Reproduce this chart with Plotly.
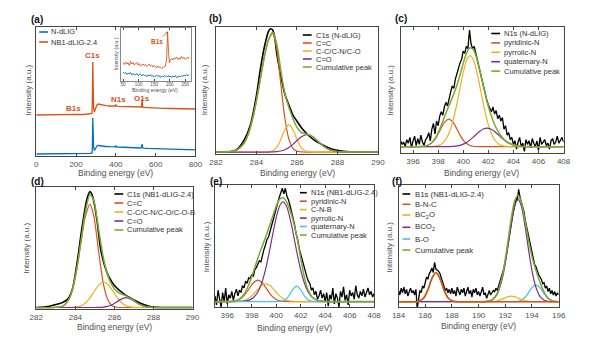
import plotly.graph_objects as go

W, H = 594, 346
FONT = "Liberation Sans, Arial, sans-serif"
AXC = "#454545"
TXT = "#505050"
BLACK, RED, YEL, PUR, CYA, GRN = "#000000", "#D95319", "#EDB120", "#7E2F8E", "#4DBEEE", "#77AC30"
BLUE = "#0072BD"

# ---------------- (a) survey ----------------
a_blue_x = [0,40,80,120,160,200,240,270,280,282,284,286,288,292,298,305,312,320,335,350,370,390,396,399,402,410,430,450,470,490,510,525,529,532,535,540,560,600,640,680,720,760,800]
a_blue_y = [2,2,2.1,2.1,2.2,2.2,2.4,2.6,3,9,38,20,9,5.5,7.5,10,10.5,10.2,9.8,9.5,9.3,9.1,9.2,10.5,9.2,9,8.7,8.6,8.4,8.3,8.1,8,8.2,12,8.2,7.9,7.6,7.3,7,6.8,6.6,6.3,6.1]
a_or_x = [0,40,80,120,160,190,200,210,240,270,280,282,284,286,288,292,298,305,312,320,335,350,370,390,396,399,402,410,430,450,470,490,510,525,529,532,535,540,560,600,640,680,720,760,800]
a_or_y = [41,41.2,41.1,41.3,41.4,41.8,42.3,41.6,41.5,41.7,42.5,60,94,70,48,44,47.5,51,52,51.5,50.8,50.3,50,49.8,50,51.5,50,49.7,49.5,49.3,49.1,49,48.8,48.7,49,57,49,48.6,48.3,48,47.7,47.5,47.3,47.1,47]
ins_x = [50,54,58,62,66,70,74,78,82,86,90,94,98,102,106,110,114,118,122,126,130,134,138,142,146,150,154,158,162,166,170,174,178,182,186,190,193,196,199,202,206,210,214,218,222,226,230,234,238,242,246,250,254,258,262]
ins_or = [18.5,16.5,19,17,18,15.5,19.5,17,18.5,16,17.5,18.5,16,17.5,15,16.5,17,15.5,16.5,14.5,16,17,15,16,14,15.5,14.5,13,15,13.5,14,12.5,13.5,14,15,22,49,30,18,21,22.5,21,23,22,24,21.5,23,22,24.5,22.5,23.5,21.5,23,24,22]
ins_bl = [9,7.5,8.5,6.5,8,7,8.5,6,7.5,7,6,7.5,5.5,6.5,7,5,6.5,5.5,6,4.5,6,5,6.5,4.5,5.5,4,5,6,4.5,5.5,3.5,5,4,5.5,4.5,5,4,5.5,4,5,3.5,5,4,5.5,3.5,4.5,5,4,5.5,4.5,6,5,6.5,5.5,6]

# ---------------- (b) C1s N-dLIG ----------------
b_black_x = [282.0,282.5,282.8,283.1,283.4,283.7,284.0,284.2,284.4,284.6,284.7,284.8,284.9,285.0,285.2,285.4,285.6,285.8,286.0,286.3,286.6,286.9,287.3,287.7,288.2,288.7,290.0]
b_black_y = [0.0,0.0,0.005,0.03,0.10,0.22,0.46,0.68,0.86,0.98,1.0,0.99,0.93,0.80,0.62,0.47,0.38,0.30,0.25,0.18,0.13,0.09,0.055,0.025,0.008,0.0,0.0]
b_x = [282.0,283.0,283.4,283.6,283.8,284.0,284.2,284.4,284.6,284.8,285.0,285.2,285.4,285.6,285.8,286.0,286.2,286.4,286.6,286.8,287.0,287.3,287.6,288.0,288.5,290.0]
b_cc = [0,.014,.075,.148,.262,.418,.601,.780,.911,.96,.836,.552,.276,.105,.030,.0065,.001,0,0,0,0,0,0,0,0,0]
b_ccn = [0,0,0,0,0,0,0,0,.0017,.0097,.038,.101,.181,.22,.181,.101,.038,.0097,.0017,0,0,0,0,0,0,0]
b_co = [0,0,0,0,0,0,0,0,0,.0012,.0034,.0086,.019,.037,.062,.093,.121,.138,.138,.121,.093,.049,.019,.0034,0,0]
b_cum = [0,.014,.075,.148,.262,.418,.601,.780,.913,.971,.877,.662,.476,.362,.273,.20,.16,.148,.140,.121,.093,.049,.019,.0034,0,0]

# ---------------- (c) N1s N-dLIG ----------------
c_black_start, c_black_step = 395.0, 0.125
c_black = [0.05,0.02,0.04,0.00,0.06,0.03,0.08,-0.01,0.05,0.09,0.01,0.07,0.02,0.10,0.04,0.01,0.06,
           0.08,0.12,0.05,0.15,0.20,0.11,0.22,
           0.18,0.26,0.30,0.27,0.34,0.38,0.35,0.42,
           0.47,0.52,0.50,0.58,0.63,0.66,0.72,0.75,
           0.82,0.80,0.86,0.84,1.00,0.88,0.84,0.86,
           0.80,0.76,0.70,0.62,0.58,0.50,0.46,0.40,
           0.36,0.33,0.30,0.34,0.28,0.31,0.24,0.27,
           0.22,0.25,0.15,0.18,0.10,0.12,0.06,0.08,
           0.02,0.05,-0.02,0.04,0.08,0.00,0.03,-0.04,0.06,0.02,0.05,-0.01,0.07,0.03,0.00,0.05,-0.03,0.08,0.02,0.04,0.06,0.01,0.03,-0.02,0.05,0.07,0.02,0.04,0.09,0.03,0.05,0.08,0.04]
c_x = [395,396,396.5,397,397.4,397.8,398.2,398.5,398.85,399.2,399.5,399.8,400.1,400.3,400.55,400.8,401.0,401.3,401.6,401.9,402.2,402.5,402.8,403.1,403.5,404,404.5,405,406,408]
c_pyridinic = [0,0,.0006,.0059,.0244,.072,.150,.208,.237,.208,.150,.089,.044,.0244,.0104,.0039,.0016,.0004,0,0,0,0,0,0,0,0,0,0,0,0]
c_pyrrolic = [0,0,0,.0002,.001,.0047,.0187,.0456,.1105,.2275,.370,.533,.680,.748,.78,.748,.680,.533,.370,.2275,.1238,.0597,.0254,.0096,.0022,.0002,0,0,0,0]
c_quaternary = [0,0,0,0,0,0,.0001,.0003,.0009,.0028,.0066,.0139,.0266,.0388,.0583,.0818,.1022,.131,.152,.16,.152,.131,.1022,.072,.0388,.0139,.0038,.0008,0,0]
c_cum = [0,0,.0006,.0061,.0254,.0767,.1688,.2539,.3484,.4383,.5266,.6359,.7506,.8112,.8487,.8337,.7838,.6644,.522,.3875,.2758,.1907,.1276,.0816,.041,.0141,.0038,.0008,0,0]

# ---------------- (d) C1s NB1-dLIG-2.4 ----------------
d_black_x = [282.0,282.5,283.0,283.3,283.6,283.85,284.1,284.35,284.6,284.75,284.9,285.1,285.3,285.5,285.7,286.0,286.5,287.0,287.5,287.9,288.5,290.0]
d_black_y = [0.0,0.005,0.025,0.04,0.07,0.16,0.40,0.70,0.94,1.0,0.95,0.76,0.50,0.36,0.27,0.19,0.115,0.065,0.025,0.005,0.0,0.0]
d_x = [282,283,283.4,283.7,283.9,284.1,284.3,284.5,284.75,284.95,285.1,285.25,285.45,285.65,285.85,286.05,286.3,286.6,286.9,287.2,287.5,287.9,288.3,290]
d_cc = [0,.0012,.017,.081,.186,.356,.573,.777,.89,.785,.607,.408,.193,.071,.020,.0045,0,0,0,0,0,0,0,0]
d_ccnob = [0,0,0,.0005,.0018,.0057,.0156,.0362,.0826,.1334,.172,.203,.22,.203,.160,.107,.052,.0156,.0033,.0005,0,0,0,0]
d_co = [0,0,0,0,0,0,0,0,0,0,.0003,.0009,.0032,.0092,.0212,.0403,.068,.085,.068,.035,.0115,.0013,0,0]
d_cum = [0,.0012,.017,.0815,.1878,.3617,.5886,.8132,.9726,.9184,.7793,.6119,.4162,.2832,.2012,.1518,.12,.1006,.0713,.0355,.0115,.0013,0,0]

# ---------------- (e) N1s NB1-dLIG-2.4 ----------------
e_black_start, e_black_step = 395.0, 0.125
e_black = [0.05,-0.03,0.10,0.02,-0.05,0.08,0.00,0.12,-0.02,0.06,0.03,0.09,0.01,0.07,0.11,0.05,0.10,
           0.08,0.14,0.12,0.18,0.16,0.21,0.20,
           0.24,0.22,0.28,0.30,0.33,0.36,0.35,0.42,
           0.46,0.50,0.55,0.57,0.63,0.68,0.72,0.77,
           0.83,0.87,0.92,0.97,1.00,0.95,1.00,0.93,
           0.90,0.85,0.80,0.74,0.68,0.60,0.55,0.47,
           0.42,0.36,0.30,0.27,0.22,0.18,0.16,0.10,
           0.12,0.06,0.09,0.02,0.05,0.10,0.03,0.07,
           0.00,0.08,-0.04,0.06,0.02,0.12,-0.02,0.07,0.03,-0.05,0.09,0.04,0.13,0.01,0.06,-0.03,0.10,0.05,0.08,0.02,0.14,0.06,0.03,0.09,0.05,0.11,0.04,0.08,0.12,0.06,0.09,0.04,0.07]
e_x = [395,396,396.5,397,397.4,397.8,398.1,398.5,398.8,399.15,399.5,399.8,400.1,400.35,400.56,400.8,401.05,401.3,401.67,402.0,402.3,402.6,402.9,403.2,403.6,404,404.5,405,406,408]
e_pyridinic = [0,.0003,.0032,.0191,.0553,.1152,.1614,.19,.1733,.1235,.0685,.0339,.0139,.0058,.0025,.0009,.0002,0,0,0,0,0,0,0,0,0,0,0,0,0]
e_cnb = [0,0,.0003,.0026,.0103,.0311,.0589,.1078,.1408,.157,.1408,.1078,.0704,.0437,.0268,.014,.0063,.0026,.0006,.0001,0,0,0,0,0,0,0,0,0,0]
e_pyrrolic = [0,0,.0001,.0008,.0035,.0129,.0308,.0839,.1582,.2925,.4722,.639,.7827,.8588,.88,.8523,.7704,.6497,.4447,.279,.1645,.0877,.0423,.0185,.0053,.0012,.0002,0,0,0]
e_quaternary = [0,0,0,0,0,0,0,0,0,0,0,0,.0003,.0018,.0065,.021,.0526,.097,.136,.1039,.051,.016,.0032,.0004,0,0,0,0,0,0]
e_cum = [0,.0003,.0036,.0225,.0691,.1592,.2511,.3817,.4723,.573,.6815,.7807,.8673,.9101,.9158,.8882,.8295,.7493,.5813,.3829,.2155,.1037,.0455,.0189,.0053,.0012,.0002,0,0,0]

# ---------------- (f) B1s NB1-dLIG-2.4 ----------------
f_black_start, f_black_step = 184.0, 0.1
f_black = [0.10,0.06,0.12,0.08,0.13,0.07,0.11,0.05,0.09,0.12,
           0.08,0.10,0.06,0.11,-0.06,0.04,0.10,0.08,0.14,0.12,
           0.16,0.22,0.20,0.25,0.27,0.30,0.26,0.35,0.29,0.28,
           0.27,0.25,0.21,0.17,0.15,0.10,0.12,0.08,0.11,0.07,
           0.12,0.07,0.10,0.05,0.13,0.09,0.06,0.11,0.08,0.12,
           0.05,0.09,0.13,0.07,0.10,0.04,0.11,0.08,0.12,0.06,
           0.09,0.05,0.10,0.13,0.06,0.08,0.03,0.07,0.10,0.06,
           0.08,0.10,0.09,0.12,0.10,0.14,0.18,0.20,0.26,0.30,
           0.36,0.44,0.50,0.58,0.66,0.74,0.80,0.85,0.92,0.90,
           1.00,0.93,0.88,0.84,0.80,0.72,0.66,0.60,0.54,0.48,
           0.42,0.38,0.33,0.31,0.27,0.24,0.22,0.20,0.16,0.17,
           0.12,0.14,0.09,0.12,0.07,0.10,0.06,0.09,0.05,0.08,
           0.06]
f_x = [184,185,185.5,185.9,186.2,186.5,186.8,187.1,187.4,187.7,188.1,188.6,189.5,190.5,191.0,191.4,191.8,192.1,192.45,192.7,192.95,193.2,193.5,193.8,194.05,194.3,194.6,194.9,195.2,195.6,196]
f_bnc = [0,.0001,.004,.0352,.1069,.208,.26,.208,.1069,.0352,.004,.0001,0,0,0,0,0,0,0,0,0,0,0,0,0,0,0,0,0,0,0]
f_bc2o = [0,0,0,0,0,0,0,0,0,0,0,0,0,.0001,.0015,.0081,.0249,.0408,.05,.0451,.0331,.0197,.0081,.0025,.0007,.0002,0,0,0,0,0]
f_bco2 = [0,0,0,0,0,0,0,0,0,0,0,0,0,.0014,.0149,.0677,.2178,.4166,.6945,.8505,.91,.8505,.6561,.4166,.246,.1268,.048,.0149,.0038,.0005,0]
f_bo = [0,0,0,0,0,0,0,0,0,0,0,0,0,0,0,0,0,0,.0002,.0009,.0039,.0133,.0417,.091,.1324,.15,.1253,.073,.0297,.0051,.0005]
f_cum = [0,.0001,.004,.0352,.1069,.208,.26,.208,.1069,.0352,.004,.0001,0,.0015,.0164,.0758,.2427,.4574,.7447,.8965,.947,.8835,.7059,.5101,.3791,.277,.1733,.0879,.0335,.0056,.0005]


def grid(start, step, n):
    return [round(start + step * i, 4) for i in range(n)]


fig = go.Figure()


def add(x, y, color, width, ax, spline=True):
    fig.add_trace(go.Scatter(
        x=x, y=y, mode="lines",
        line=dict(color=color, width=width, shape="spline" if spline else "linear", smoothing=0.8),
        xaxis="x" + ax, yaxis="y" + ax, showlegend=False, hoverinfo="skip"))


# (a)
add(a_blue_x, a_blue_y, BLUE, 1.3, "", spline=False)
add(a_or_x, a_or_y, RED, 1.3, "", spline=False)
add(ins_x, ins_bl, BLUE, 0.9, "7", spline=False)
add(ins_x, ins_or, RED, 0.9, "7", spline=False)
# (b)
add(b_black_x, b_black_y, BLACK, 1.6, "2")
add(b_x, b_cc, RED, 1.2, "2")
add(b_x, b_ccn, YEL, 1.2, "2")
add(b_x, b_co, PUR, 1.2, "2")
add(b_x, b_cum, GRN, 1.5, "2")
# (c)
add(grid(c_black_start, c_black_step, len(c_black)), c_black, BLACK, 1.3, "3", spline=False)
add(c_x, c_pyridinic, RED, 1.2, "3")
add(c_x, c_pyrrolic, YEL, 1.2, "3")
add(c_x, c_quaternary, PUR, 1.2, "3")
add(c_x, c_cum, GRN, 1.5, "3")
# (d)
add(d_black_x, d_black_y, BLACK, 1.6, "4")
add(d_x, d_cc, RED, 1.2, "4")
add(d_x, d_ccnob, YEL, 1.2, "4")
add(d_x, d_co, PUR, 1.2, "4")
add(d_x, d_cum, GRN, 1.5, "4")
# (e)
add(grid(e_black_start, e_black_step, len(e_black)), e_black, BLACK, 1.3, "5", spline=False)
add(e_x, e_pyridinic, RED, 1.2, "5")
add(e_x, e_cnb, YEL, 1.2, "5")
add(e_x, e_pyrrolic, PUR, 1.2, "5")
add(e_x, e_quaternary, CYA, 1.2, "5")
add(e_x, e_cum, GRN, 1.5, "5")
# (f)
add(grid(f_black_start, f_black_step, len(f_black)), f_black, BLACK, 1.3, "6", spline=False)
add(f_x, f_bo, CYA, 1.3, "6")
add(f_x, f_bc2o, YEL, 1.2, "6")
add(f_x, f_bco2, PUR, 1.2, "6")
add(f_x, f_cum, GRN, 1.5, "6")
add(f_x, f_bnc, RED, 1.5, "6")

panels = [
    ("", (30, 193), (27, 156), [0, 800], [0, 129], [0, 200, 400, 600, 800]),
    ("2", (214, 380), (27, 154), [282, 290], [-0.016, 1.014], [282, 284, 286, 288, 290]),
    ("3", (403, 570), (27, 153), [395, 408], [-0.054, 1.026], [396, 398, 400, 402, 404, 406, 408]),
    ("4", (30, 190), (187, 309), [282, 290], [-0.013, 1.04], [282, 284, 286, 288, 290]),
    ("5", (213, 376), (185, 307), [395, 408], [-0.048, 1.029], [396, 398, 400, 402, 404, 406, 408]),
    ("6", (401, 565), (185, 307), [184, 196], [-0.047, 1.038], [184, 186, 188, 190, 192, 194, 196]),
    ("7", (117, 188), (28, 81), [44, 267], [0, 53], [50, 100, 150, 200, 250]),
]
layout = {}
for n, (x0, x1), (y0, y1), xr, yr, tv in panels:
    small = n == "7"
    layout["xaxis" + n] = dict(
        domain=[x0 / W, x1 / W], range=xr, tickvals=tv, anchor="y" + n,
        ticks="inside", ticklen=2 if small else 3, tickcolor=AXC, tickwidth=0.8,
        showline=True, linecolor="#8a8a8a" if small else AXC, linewidth=0.8 if small else 1,
        mirror="ticks", showgrid=False, zeroline=False,
        ticklabelstandoff=-1 if small else 0,
        tickfont=dict(size=4.6 if small else 8, color=TXT, family=FONT))
    layout["yaxis" + n] = dict(
        domain=[1 - y1 / H, 1 - y0 / H], range=yr, anchor="x" + n,
        showticklabels=False, ticks="", showline=True, linecolor="#8a8a8a" if small else AXC,
        linewidth=0.8 if small else 1, mirror=True, showgrid=False, zeroline=False)

ann = []
shapes = []


def text(x, y, s, size=8, color=TXT, angle=0, xanchor="center", bold=False):
    ann.append(dict(x=x / W, y=1 - y / H, xref="paper", yref="paper", text=("<b>%s</b>" % s) if bold else s,
                    showarrow=False, xanchor=xanchor, yanchor="middle", textangle=angle,
                    font=dict(size=size, color=color, family=FONT)))


# panel letters
for s, x, y in [("(a)", 31, 20), ("(b)", 214, 19), ("(c)", 403, 19), ("(d)", 31, 181), ("(e)", 214, 181), ("(f)", 399, 181)]:
    text(x, y, s, size=10, color="#111111", bold=True)
# axis titles
for x, y in [(111, 173.5), (297, 173.5), (486, 173.5), (110, 326.5), (294, 327.5), (483, 325.5)]:
    text(x, y, "Binding energy (eV)", size=8.5)
for x, y in [(23, 90), (203, 90), (393, 90), (19, 248), (205, 247), (392, 247)]:
    text(x, y, "Intensity (a.u.)", size=8, angle=-90)
# inset titles
text(152, 90, "Binding energy (eV)", size=5.2)
text(112, 54, "Intensity (a.u.)", size=5.2, angle=-90)

# peak labels in (a)
for s, x, y in [("C1s", 285, 101), ("B1s", 187, 48), ("N1s", 412, 57), ("O1s", 530, 57.5)]:
    ann.append(dict(x=x, y=y, xref="x", yref="y", text="<b>%s</b>" % s, showarrow=False,
                    font=dict(size=8, color=RED, family=FONT)))
ann.append(dict(x=195, y=49.5, xref="x7", yref="y7", text="<b>B1s</b>", showarrow=True, ax=-11, ay=10,
                arrowhead=2, arrowsize=0.6, arrowwidth=0.8, arrowcolor=RED, standoff=0,
                font=dict(size=6.5, color=RED, family=FONT)))


def legend(items, ys, lx0, lx1, tx, size=7.5):
    for (label, color), y in zip(items, ys):
        shapes.append(dict(type="line", xref="paper", yref="paper", x0=lx0 / W, x1=lx1 / W,
                           y0=1 - y / H, y1=1 - y / H, line=dict(color=color, width=1.6)))
        text(tx, y, label, size=size, color="#333333", xanchor="left")


legend([("N-dLIG", BLUE), ("NB1-dLIG-2.4", RED)], [32, 42], 33, 42, 43.5, size=7.5)
legend([("C1s (N-dLIG)", BLACK), ("C=C", RED), ("C-C/C-N/C-O", YEL), ("C=O", PUR), ("Cumulative peak", GRN)],
       [35, 43, 51, 59, 67], 303, 312, 314)
legend([("N1s (N-dLIG)", BLACK), ("pyridinic-N", RED), ("pyrrolic-N", YEL), ("quaternary-N", PUR), ("Cumulative peak", GRN)],
       [33.5, 42.9, 52.3, 61.7, 71.1], 496, 505, 507)
legend([("C1s (NB1-dLIG-2.4)", BLACK), ("C=C", RED), ("C-C/C-N/C-O/C-O-B", YEL), ("C=O", PUR), ("Cumulative peak", GRN)],
       [194, 203, 212, 221, 230], 110, 119, 121)
legend([("N1s (NB1-dLIG-2.4)", BLACK), ("pyridinic-N", RED), ("C-N-B", YEL), ("pyrrolic-N", PUR), ("quaternary-N", CYA), ("Cumulative peak", GRN)],
       [192.7, 201.2, 209.6, 218.1, 226.5, 235], 300, 307, 309)
legend([("B1s (NB1-dLIG-2.4)", BLACK), ("B-N-C", RED), ("BC<sub>2</sub>O", YEL), ("BCO<sub>2</sub>", PUR), ("B-O", CYA), ("Cumulative peak", GRN)],
       [194, 204.3, 215, 227.3, 239, 250], 405, 413, 416, size=7.8)

fig.update_layout(width=W, height=H, margin=dict(l=0, r=0, t=0, b=0), autosize=False,
                  paper_bgcolor="white", plot_bgcolor="white", font=dict(family=FONT),
                  annotations=ann, shapes=shapes, **layout)
fig.write_html("out.html")
